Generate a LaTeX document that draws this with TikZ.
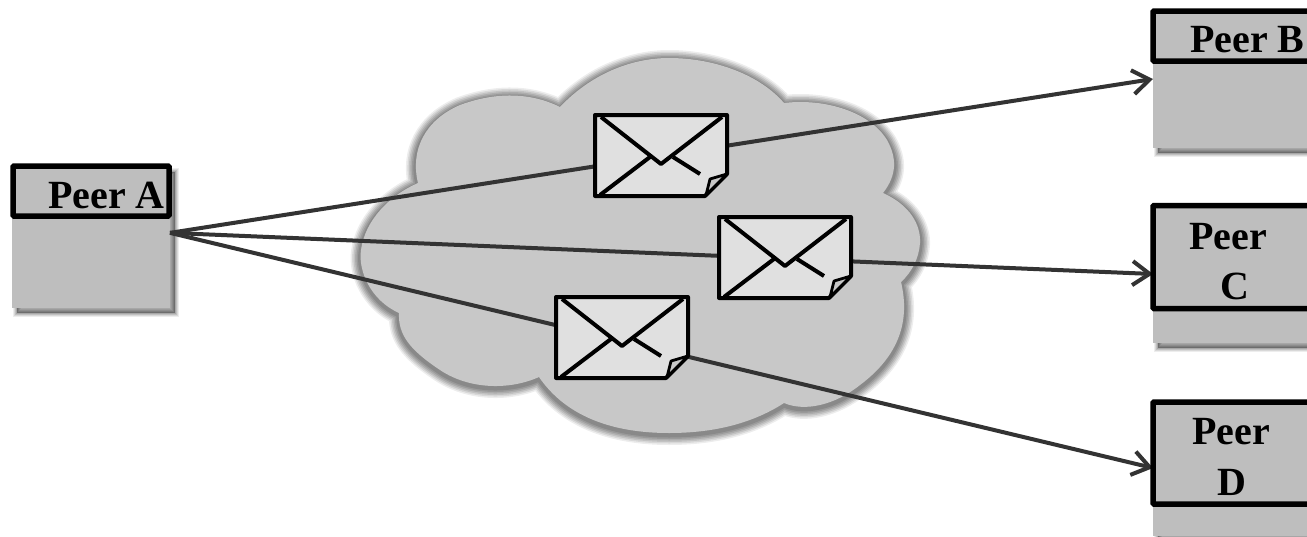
\documentclass[tikz,border=0pt]{standalone}
\usepackage{fontspec}
\setmainfont{Liberation Serif}
\usetikzlibrary{arrows.meta}
\definecolor{cloudgrey}{HTML}{C8C8C8}
\definecolor{boxgrey}{HTML}{BEBEBE}
\definecolor{envgrey}{HTML}{E0E0E0}
\definecolor{linkgrey}{HTML}{333333}
\tikzset{
  softshadow/.style={
    preaction={fill=black,draw=black,opacity=.07,line width=8pt,transform canvas={xshift=5pt,yshift=-5pt}},
    preaction={fill=black,draw=black,opacity=.09,line width=6pt,transform canvas={xshift=5pt,yshift=-5pt}},
    preaction={fill=black,draw=black,opacity=.11,line width=4pt,transform canvas={xshift=5pt,yshift=-5pt}},
    preaction={fill=black,draw=black,opacity=.13,line width=2pt,transform canvas={xshift=5pt,yshift=-5pt}}},
  cloudring/.style={draw=black,opacity=#1,line join=round,transform canvas={yshift=-2pt}},
  peerbody/.style={rectangle,fill=boxgrey,inner sep=0pt,outer sep=0pt,softshadow,minimum width=#1},
  peerhead/.style={rectangle,draw=black,fill=boxgrey,line width=5.5pt,rounded corners=1pt,inner sep=0pt,outer sep=0pt,minimum width=#1},
  peerlabel/.style={font=\fontsize{40}{40}\selectfont\bfseries,inner sep=0pt,anchor=base west,text=black},
  link/.style={draw=linkgrey,line width=4pt},
  arrowlink/.style={link,-{Straight Barb[length=17pt,width=24pt,line width=4pt]}},
  envbox/.style={rectangle,inner sep=0pt,outer sep=0pt,minimum width=132pt,minimum height=81pt,anchor=north west},
  envline/.style={draw=black,line width=4pt,line join=round},
}
\newcommand{\cloudoutline}{(560,107) .. controls (590,75) and (630,58) .. (669,58)
    .. controls (715,58) and (760,75) .. (784,103)
    .. controls (825,98) and (870,112) .. (887,140)
    .. controls (897,158) and (897,175) .. (883,193)
    .. controls (910,205) and (921,225) .. (920,243)
    .. controls (919,258) and (912,272) .. (901,282)
    .. controls (910,320) and (900,355) .. (860,385)
    .. controls (835,405) and (805,412) .. (784,403)
    .. controls (750,425) and (710,433) .. (669,433)
    .. controls (610,433) and (565,415) .. (539,377)
    .. controls (510,390) and (470,390) .. (440,370)
    .. controls (410,350) and (398,335) .. (399,313)
    .. controls (370,300) and (358,270) .. (361,250)
    .. controls (365,220) and (390,195) .. (418,183)
    .. controls (410,150) and (425,120) .. (460,105)
    .. controls (495,92) and (530,92) .. (560,107) -- cycle}
\newcommand{\envelope}[3]{%
  \node[envbox] (#1) at (#2,#3) {};
  \begin{scope}[shift={(#2,#3)}]
    \filldraw[envline,fill=envgrey] (0,0) -- (132,0) -- (132,59) -- (110,81) -- (0,81) -- cycle;
    \filldraw[envline,line width=2.8pt,fill=cloudgrey] (132,59) -- (115,64) -- (111,80) -- cycle;
    \draw[envline] (6,2) -- (66,49) -- (127,2);
    \draw[envline] (5,80) -- (55,42);
    \draw[envline] (78,42) -- (105,59);
  \end{scope}}
\begin{document}
\begin{tikzpicture}[x=1pt,y=-1pt]
  \clip (0,0) rectangle (1307,536);
  % cloud with soft rim
  \path[cloudring=.07,line width=20pt] \cloudoutline;
  \path[cloudring=.09,line width=17pt] \cloudoutline;
  \path[cloudring=.10,line width=14pt] \cloudoutline;
  \path[cloudring=.11,line width=11pt] \cloudoutline;
  \path[cloudring=.11,line width=8pt] \cloudoutline;
  \path[cloudring=.11,line width=5pt] \cloudoutline;
  \path[fill=cloudgrey] \cloudoutline;
  % peer bodies
  \node[peerbody=158pt,minimum height=141pt] (peerA) at (91,237) {};
  \node[peerbody=180pt,minimum height=138pt] (peerB) at (1243,79) {};
  \node[peerbody=180pt,minimum height=138pt] (peerC) at (1243,274) {};
  \node[peerbody=180pt,minimum height=136pt] (peerD) at (1243,468) {};
  % connectors
  \draw[arrowlink] (peerA.3) -- (peerB.west);
  \draw[arrowlink] (peerA.3) -- (peerC.west);
  \draw[arrowlink] (peerA.3) -- (peerD.west);
  % envelopes
  \envelope{envB}{595}{115}
  \envelope{envC}{719}{217}
  \envelope{envD}{556}{297}
  % headers
  \node[peerhead=156pt,minimum height=50pt] (headA) at (91,191) {};
  \node[peerhead=180pt,minimum height=50pt] (headB) at (1243,36) {};
  \node[peerhead=180pt,minimum height=103pt] (headC) at (1243,257) {};
  \node[peerhead=180pt,minimum height=102pt] (headD) at (1243,453) {};
  % labels
  \node[peerlabel] (labA) at (48,208) {Peer A};
  \node[peerlabel] (labB) at (1190,52) {Peer B};
  \node[peerlabel] (labC1) at (1189,249) {Peer};
  \node[peerlabel,anchor=base] (labC2) at (1235,299) {C};
  \node[peerlabel] (labD1) at (1192,444) {Peer};
  \node[peerlabel,anchor=base] (labD2) at (1232,495) {D};
\end{tikzpicture}
\end{document}
